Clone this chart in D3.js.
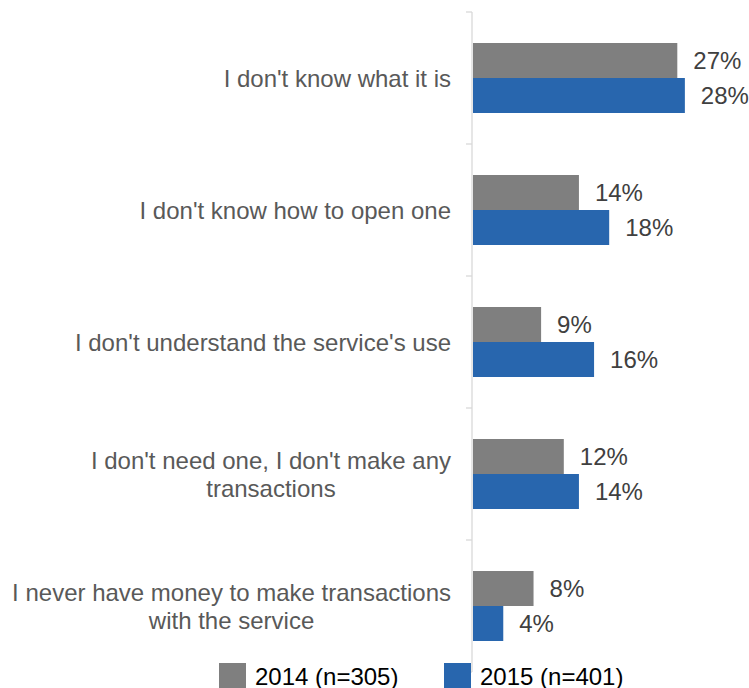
<!DOCTYPE html>
<html>
<head>
<meta charset="utf-8">
<script src="https://cdn.jsdelivr.net/npm/d3@7"></script>
<style>
  html, body { margin: 0; padding: 0; background: #ffffff; }
  svg { display: block; font-family: "Liberation Sans", Arial, sans-serif; }
</style>
</head>
<body>
<svg id="chart" width="749" height="688"></svg>
<script>
// Reasons for not having the service, share of respondents
const categories = [
  ["I don't know what it is"],
  ["I don't know how to open one"],
  ["I don't understand the service's use"],
  ["I don't need one, I don't make any", "transactions"],
  ["I never have money to make transactions", "with the service"]
];
const seriesNames = ["2014 (n=305)", "2015 (n=401)"];
const values2014 = [27, 14, 9, 12, 8];
const values2015 = [28, 18, 16, 14, 4];
const seriesColors = ["#7f7f7f", "#2866ae"];

const svg = d3.select("#chart");
const keys = categories.map((c, i) => i);
const series = [values2014, values2015];

const y = d3.scaleBand().domain(keys).range([12, 672]).paddingInner(0).paddingOuter(0);
const ySub = d3.scaleBand().domain([0, 1]).range([0, y.bandwidth()])
  .paddingInner(0).paddingOuter(31 / 35);
const x = d3.scaleLinear().domain([0, 30]).range([473, 700]);

// Axis line with tick marks at category boundaries
const axisX = 472;
const axisG = svg.append("g").attr("stroke", "#d9d9d9").attr("stroke-width", 1.3);
axisG.append("line")
  .attr("x1", axisX).attr("x2", axisX)
  .attr("y1", y.range()[0]).attr("y2", y.range()[1]);
const boundaries = keys.map(k => y(k)).concat([y.range()[1]]);
axisG.selectAll("line.tick").data(boundaries).join("line")
  .attr("class", "tick")
  .attr("x1", axisX - 6).attr("x2", axisX)
  .attr("y1", d => d).attr("y2", d => d);

// Bars and value labels
series.forEach((vals, s) => {
  const g = svg.append("g");
  g.selectAll("rect").data(vals).join("rect")
    .attr("x", x(0))
    .attr("y", (d, i) => y(i) + ySub(s))
    .attr("width", d => x(d) - x(0))
    .attr("height", ySub.bandwidth())
    .attr("fill", seriesColors[s]);
  g.selectAll("text").data(vals).join("text")
    .attr("x", d => x(d) + 16)
    .attr("y", (d, i) => y(i) + ySub(s) + ySub.bandwidth() / 2 + 8.5)
    .attr("font-size", 24)
    .attr("fill", "#404040")
    .text(d => d + "%");
});

// Category labels: block right-aligned, lines centred within the block
const charW = (t) => {
  const ctx = document.createElement("canvas").getContext("2d");
  ctx.font = "24px 'Liberation Sans', Arial, sans-serif";
  return ctx.measureText(t).width;
};
const labelRight = 451;
const lineH = 28;
categories.forEach((lines, i) => {
  const blockW = d3.max(lines, charW);
  const cx = labelRight - blockW / 2;
  const cy = y(i) + y.bandwidth() / 2;
  const t = svg.append("text")
    .attr("font-size", 24)
    .attr("fill", "#595959")
    .attr("text-anchor", "middle");
  lines.forEach((ln, j) => {
    t.append("tspan")
      .attr("x", cx)
      .attr("y", cy - (lines.length - 1) * lineH / 2 + j * lineH + 8.5)
      .text(ln);
  });
});

// Legend
const legendPos = [219, 444];
seriesNames.forEach((name, s) => {
  svg.append("rect")
    .attr("x", legendPos[s]).attr("y", 663)
    .attr("width", 27).attr("height", 27)
    .attr("fill", seriesColors[s]);
  svg.append("text")
    .attr("x", legendPos[s] + 36).attr("y", 685)
    .attr("font-size", 24)
    .attr("fill", "#000000")
    .text(name);
});
</script>
</body>
</html>
